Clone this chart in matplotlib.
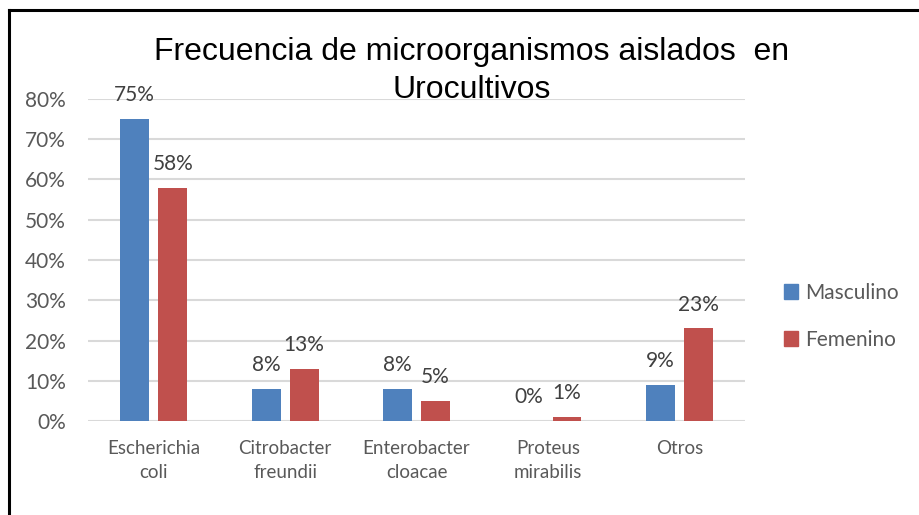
import matplotlib
matplotlib.use("Agg")
import matplotlib.pyplot as plt
import numpy as np
from matplotlib.lines import Line2D
from matplotlib.patches import Patch

categories = ["Escherichia\ncoli", "Citrobacter\nfreundii", "Enterobacter\ncloacae", "Proteus\nmirabilis", "Otros"]
masculino = [0.75, 0.08, 0.08, 0.00, 0.09]
femenino = [0.58, 0.13, 0.05, 0.01, 0.23]
yticks = [0, 0.1, 0.2, 0.3, 0.4, 0.5, 0.6, 0.7, 0.8]
title = "Frecuencia de microorganismos aislados  en\nUrocultivos"

blue = "#4F81BD"
red = "#C0504D"
tick_font = "Lato"

fig = plt.figure(figsize=(9.2, 5.15), dpi=100)
ax = fig.add_axes([0.0957, 0.1825, 0.8098 - 0.0957, 0.8078 - 0.1825])

x = np.arange(len(categories))
w = 0.22
off = 0.145
b1 = ax.bar(x - off, masculino, w, color=blue, label="Masculino", zorder=3)
b2 = ax.bar(x + off, femenino, w, color=red, label="Femenino", zorder=3)

for bars, vals in ((b1, masculino), (b2, femenino)):
    for rect, v in zip(bars, vals):
        ax.annotate(f"{round(v*100):d}%", (rect.get_x() + rect.get_width() / 2, v),
                    xytext=(0, 17), textcoords="offset points", ha="center", va="center",
                    fontsize=15, color="#404040", family=tick_font, zorder=4)

ax.set_xlim(-0.5, len(categories) - 0.5)
ax.set_ylim(0, 0.8)
ax.set_yticks(yticks)
ax.set_yticklabels([f"{round(t*100):d}%" for t in yticks], fontsize=15, color="#595959", family=tick_font)
ax.set_xticks(x)
ax.set_xticklabels(categories, fontsize=13.5, color="#595959", family=tick_font, linespacing=1.45)
ax.tick_params(axis="both", length=0)
ax.tick_params(axis="x", pad=14)
ax.tick_params(axis="y", pad=16)
ax.grid(axis="y", color="#D9D9D9", lw=1.5, zorder=0)
ax.set_axisbelow(True)
for s in ax.spines.values():
    s.set_visible(False)

fig.text(0.5125, 0.862, title, ha="center", va="center", fontsize=23,
         family="Liberation Sans", color="black", linespacing=1.33)

handles = [Patch(color=blue), Patch(color=red)]
leg = fig.legend(handles, ["Masculino", "Femenino"], loc="center left",
                 bbox_to_anchor=(0.8315, 0.386), frameon=False,
                 prop={"family": tick_font, "size": 15}, labelcolor="#595959",
                 handlelength=0.7, handleheight=0.7, handletextpad=0.35, labelspacing=1.3)

fig.add_artist(Line2D([8.5/920, 8.5/920], [0, 1 - 10/515], transform=fig.transFigure, color="black", lw=2.2))
fig.add_artist(Line2D([8.5/920, 1], [1 - 10/515, 1 - 10/515], transform=fig.transFigure, color="black", lw=2.2))

fig.savefig("out.png", dpi=100)
